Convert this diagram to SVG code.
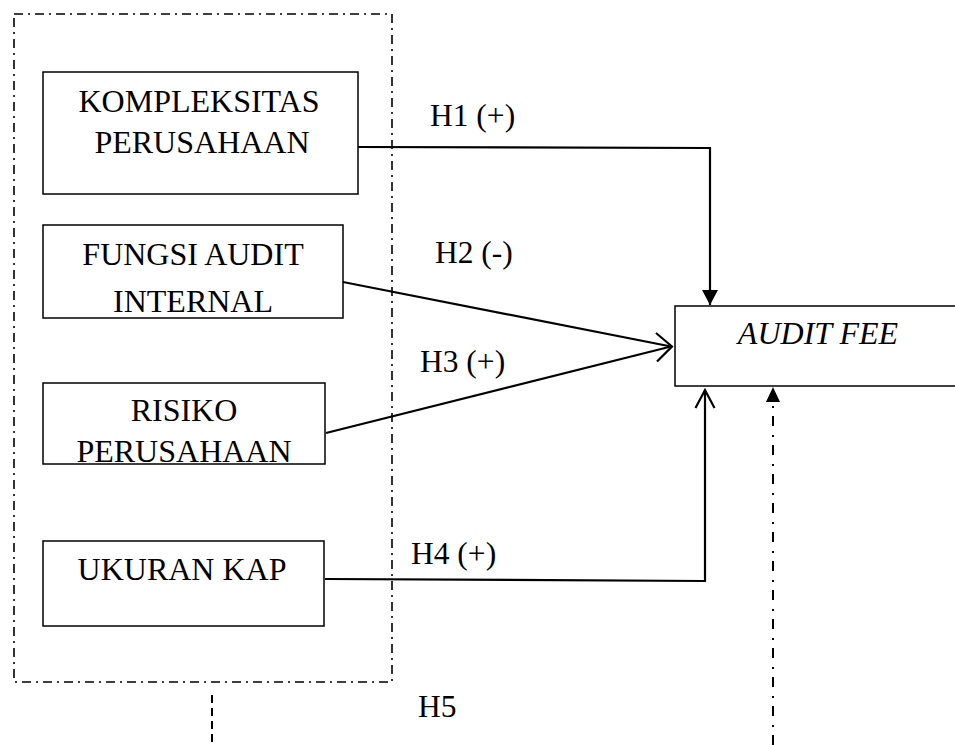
<svg xmlns="http://www.w3.org/2000/svg" width="955" height="745" viewBox="0 0 955 745">
<style>
.box{fill:#fff;stroke:#000;stroke-width:1.5}
.t{font-family:"Liberation Serif","Times New Roman",serif;font-size:32px;fill:#000;text-anchor:middle}
.lbl{font-family:"Liberation Serif","Times New Roman",serif;font-size:31.5px;fill:#000}
.ln{fill:none;stroke:#000;stroke-width:2.2}
</style>
<defs>
<marker id="fill" markerWidth="16" markerHeight="16" viewBox="0 0 16 16" refX="15" refY="8" orient="auto" markerUnits="userSpaceOnUse">
<path d="M0,0 L15,8 L0,16 Z" fill="#000"/>
</marker>
<marker id="open" markerWidth="22" markerHeight="24" viewBox="0 0 22 24" refX="19" refY="12" orient="auto" markerUnits="userSpaceOnUse">
<path d="M1,2.5 L19,12 L1,21.5" fill="none" stroke="#000" stroke-width="2.2"/>
</marker>
</defs>
<rect id="group-border" x="14" y="14" width="378" height="668" fill="none" stroke="#000" stroke-width="1.6" stroke-dasharray="9 5 2 5"/>
<g id="connectors">
<path class="ln" d="M358,147 L710,148 L710,305" marker-end="url(#fill)"/>
<path class="ln" d="M343,282 L671,346.5"/>
<path class="ln" d="M326,433 L671,346.5"/>
<path class="ln" d="M656,333 L672,346.5 L657,361.5"/>
<path class="ln" d="M325,579 L705,581 L705,390" marker-end="url(#open)"/>
<path d="M773,745 L773,402" fill="none" stroke="#000" stroke-width="2" stroke-dasharray="10 8 2 9"/>
<path d="M766,402 L773,387 L780,402 Z" fill="#000"/>
<path d="M212,695 L212,745" fill="none" stroke="#000" stroke-width="2" stroke-dasharray="8 5"/>
</g>
<g id="n1">
<rect class="box" x="43" y="72" width="315" height="122"/>
<text class="t" x="199" y="112">KOMPLEKSITAS</text>
<text class="t" x="202" y="153">PERUSAHAAN</text>
</g>
<g id="n2">
<rect class="box" x="43" y="225" width="300" height="93"/>
<text class="t" x="193" y="265">FUNGSI AUDIT</text>
<text class="t" x="193" y="312">INTERNAL</text>
</g>
<g id="n3">
<rect class="box" x="43" y="383" width="282" height="81"/>
<text class="t" x="184" y="421">RISIKO</text>
<text class="t" x="184" y="462">PERUSAHAAN</text>
</g>
<g id="n4">
<rect class="box" x="43" y="541" width="281" height="85"/>
<text class="t" x="182" y="580">UKURAN KAP</text>
</g>
<g id="n5">
<rect class="box" x="675" y="306" width="285" height="80"/>
<text class="t" x="818" y="344" font-style="italic">AUDIT FEE</text>
</g>
<g id="labels">
<text class="lbl" x="430" y="126">H1 (+)</text>
<text class="lbl" x="435" y="263">H2 (-)</text>
<text class="lbl" x="420" y="372">H3 (+)</text>
<text class="lbl" x="411" y="564">H4 (+)</text>
<text class="lbl" x="418" y="717">H5</text>
</g>
</svg>
